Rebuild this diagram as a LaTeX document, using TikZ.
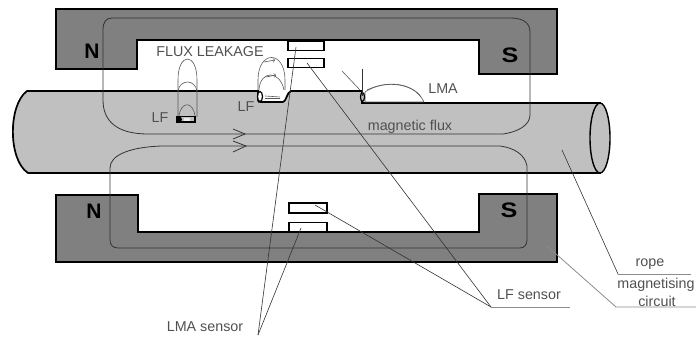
\documentclass[tikz,border=0pt]{standalone}
\usepackage{fontspec}
\setmainfont{Liberation Sans}
\usepackage{tikz}
\usetikzlibrary{positioning,calc}
\definecolor{yokegray}{HTML}{808080}
\definecolor{ropegray}{HTML}{C0C0C0}
\definecolor{labelgray}{HTML}{505050}
\tikzset{
  yoke/.style={draw=black,line width=1.9pt,fill=yokegray,line join=miter},
  rope/.style={draw=black,line width=1.7pt,fill=ropegray},
  sensor/.style={draw=black,line width=1.6pt,fill=white,inner sep=0pt},
  flux/.style={draw=black!80,line width=0.8pt},
  leakage/.style={draw=black!65,line width=0.6pt},
  leader/.style={draw=black!80,line width=0.6pt},
  paleleader/.style={draw=black!45,line width=0.8pt},
  lbl/.style={text=labelgray,inner sep=0pt,font=\fontsize{14.3}{15}\selectfont},
  pole/.style={text=black,inner sep=0pt,transform shape,font=\fontsize{21}{21}\selectfont\bfseries},
}
\begin{document}
\begin{tikzpicture}[x=1pt,y=-1pt]
\useasboundingbox (0,0) rectangle (696,339);
% rope
\draw[rope] (27,91) -- (258,91) -- (258,100) .. controls (258,102) and (259,102) .. (261,102)
  -- (283,102) .. controls (286,102) and (287,92) .. (291,91) -- (362,91) -- (362,103) -- (600,103)
  -- (600,173) -- (28,173) .. controls (8,160) and (8,105) .. (27,91) -- cycle;
\draw[rope,line width=1.4pt] (600,138) ellipse [x radius=10,y radius=35];
% yokes
\draw[yoke] (56,9) -- (557,9) -- (557,74) -- (479,74) -- (479,40) -- (137,40) -- (137,69) -- (56,69) -- cycle;
\draw[yoke] (56,195) -- (138,195) -- (138,232) -- (479,232) -- (479,194) -- (557,194) -- (557,262) -- (56,262) -- cycle;
% sensors
\node[sensor,minimum width=36pt,minimum height=9pt] (upperLF) at (306,46) {};
\node[sensor,minimum width=36pt,minimum height=9pt] (upperLMA) at (306,63) {};
\node[sensor,minimum width=38pt,minimum height=10pt] (lowerLF) at (308,208) {};
\node[sensor,minimum width=38pt,minimum height=9pt] (lowerLMA) at (308,227) {};
% flux loops
\draw[flux] (148,134) .. controls (118,134) and (103,122) .. (103,100) -- (103,30)
  .. controls (103,22) and (106,18) .. (112,18) -- (510,18) .. controls (522,18) and (530,22) .. (530,32)
  -- (530,115) .. controls (530,125) and (518,132) .. (503,134) -- cycle;
\draw[flux] (162,146) .. controls (130,147) and (110,155) .. (110,168) -- (110,240)
  .. controls (110,245) and (113,248) .. (118,248) -- (520,248) .. controls (524,248) and (527,245) .. (527,240)
  -- (527,166) .. controls (525,155) and (515,148) .. (500,146) -- cycle;
\draw[flux] (233,129) -- (245,134) -- (233,139);
\draw[flux] (233,141) -- (246,146) -- (233,152);
% leakage over the crack
\draw[leakage] (178,117) -- (178,80) .. controls (178,52) and (197,52) .. (197,80) -- (197,117);
\draw[leakage] (178,91) .. controls (180,79) and (195,79) .. (197,91);
\draw[leakage] (179,116) .. controls (181,101) and (193,101) .. (195,116);
\draw[black,line width=1.8pt,fill=ropegray] (177,116.5) rectangle (195,122);
\fill[black] (179,119.5) circle (3);
\fill[white!70!ropegray] (184,118) rectangle (190,121);
% leakage over the notch
\draw[leakage] (258,90) -- (258,80) .. controls (258,50) and (285,50) .. (285,80) -- (285,90);
\draw[leakage] (259,90) .. controls (260,70) and (280,70) .. (284,90);
\draw[leakage,->] (264,62) -- (275,60);
\draw[leakage,->] (266,77) -- (276,75);
\draw[black,line width=1.2pt,fill=white] (260,96.5) ellipse [x radius=2.5,y radius=5];
\draw[leakage] (265,96) -- (280,97);
\draw[leakage] (265,98.5) -- (280,98.5);
% leakage over the step
\draw[leakage,fill=white] (365,92) .. controls (385,79) and (415,82) .. (424,102) -- (365,102) -- cycle;
\draw[leakage] (367,90) .. controls (387,80) and (412,84) .. (421,97);
\draw[black,line width=1.2pt,fill=ropegray] (362.5,97) ellipse [x radius=2,y radius=4.5];
\coordinate (stepTop) at (362,69);
\coordinate (stepFoot) at (362,96);
\draw[leader] (stepTop) -- (stepFoot);
\coordinate (slashTop) at (342,71);
\coordinate (slashFoot) at (360,90);
\draw[leakage] (slashTop) -- (slashFoot);
% pole letters
\node[pole] (poleNa) at (92,51) {N};
\node[pole,xscale=1.2] (poleSa) at (510,55) {S};
\node[pole] (poleNb) at (94,211) {N};
\node[pole,xscale=1.2] (poleSb) at (509,210) {S};
% labels
\node[lbl] (fluxLeak) at (210,52) {FLUX LEAKAGE};
\node[lbl] (crackLF) at (160,118) {LF};
\node[lbl] (notchLF) at (246,107) {LF};
\node[lbl] (stepLMA) at (443,89) {LMA};
\node[lbl] (fluxLbl) at (410,127) {magnetic flux};
\node[lbl] (lmaLbl) at (205,327) {LMA sensor};
\node[lbl] (lfLbl) at (529,295) {LF sensor};
\node[lbl] (ropeLbl) at (650,264) {rope};
\node[lbl] (magLbl) at (656,285) {magnetising};
\node[lbl] (circLbl) at (657,301) {circuit};
% leaders
\coordinate (lmaEnd) at (258,335);
\coordinate (lmaTipA) at (296,47);
\coordinate (lmaTipB) at (301,228);
\draw[leader] (lmaEnd) -- (lmaTipA);
\draw[leader] (lmaEnd) -- (lmaTipB);
\coordinate (lfEnd) at (491,307);
\coordinate (lfStop) at (570,307);
\coordinate (lfTipA) at (307,63);
\coordinate (lfTipB) at (315,205);
\draw[leader] (lfEnd) -- (lfTipA);
\draw[leader] (lfEnd) -- (lfTipB);
\draw[paleleader] (lfEnd) -- (lfStop);
\coordinate (ropeTip) at (562,150);
\coordinate (ropeEnd) at (618,274);
\coordinate (ropeStop) at (691,274);
\draw[leader] (ropeTip) -- (ropeEnd);
\draw[paleleader] (ropeEnd) -- (ropeStop);
\coordinate (magTip) at (547,246);
\coordinate (magEnd) at (616,307);
\coordinate (magStop) at (696,307);
\draw[paleleader] (magTip) -- (magEnd) -- (magStop);
\end{tikzpicture}
\end{document}
